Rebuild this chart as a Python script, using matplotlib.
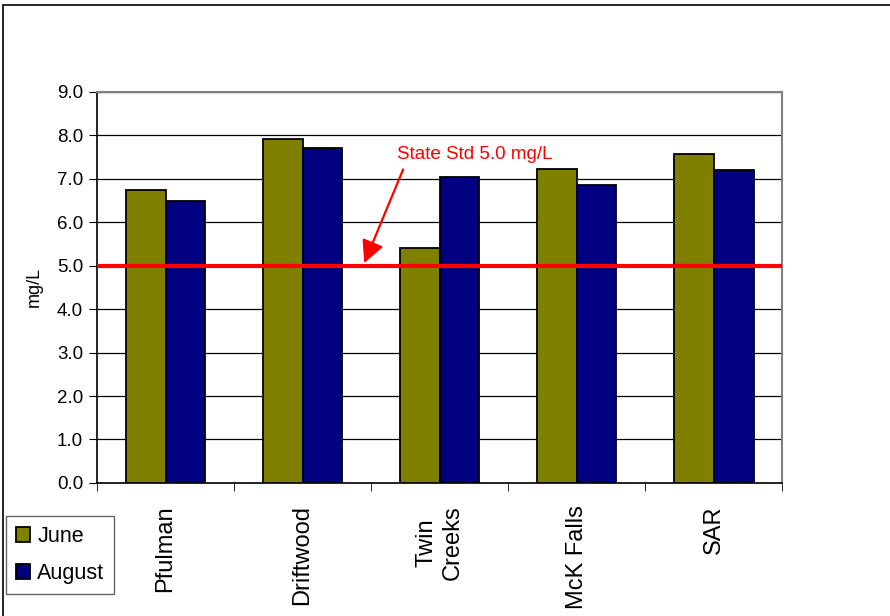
import numpy as np
import matplotlib.pyplot as plt
from matplotlib.patches import Rectangle

plt.rcParams['font.family'] = ['Liberation Sans', 'DejaVu Sans']

# dissolved oxygen by site
sites = ['Pfulman', 'Driftwood', 'Twin\nCreeks', 'McK Falls', 'SAR']
june = [6.73, 7.92, 5.40, 7.23, 7.58]
august = [6.48, 7.70, 7.03, 6.85, 7.19]
state_std = 5.0

x = np.arange(len(sites))
w = 0.29

fig = plt.figure(figsize=(8.9, 6.16), dpi=100)
ax = fig.add_axes([0.109, 0.216, 0.770, 0.635])

ax.bar(x - w / 2, june, w, color='#808000', edgecolor='black', linewidth=1.3, label='June', zorder=3)
ax.bar(x + w / 2, august, w, color='#000080', edgecolor='black', linewidth=1.3, label='August', zorder=3)

# state standard line
ax.axhline(state_std, color='#ff0000', lw=3, zorder=4)
ax.text(1.69, 7.55, 'State Std 5.0 mg/L', color='#ff0000', fontsize=13.5, va='center', ha='left')
ax.annotate('', xy=(1.442, state_std), xytext=(1.741, 7.27),
            arrowprops=dict(arrowstyle='-|>', color='#ff0000', lw=1.6, mutation_scale=34),
            zorder=5)

ax.set_xlim(-0.5, 4.5)
ax.set_ylim(0, 9)
ax.set_yticks(np.arange(0, 9.1, 1))
ax.set_yticklabels([f'{v:.1f}' for v in np.arange(0, 9.1, 1)], fontsize=13.5)
ax.yaxis.grid(True, color='black', lw=0.9, zorder=0)
ax.set_ylabel('mg/L', fontsize=13, labelpad=10)

ax.set_xticks(x)
ax.set_xticklabels(sites, rotation=90, fontsize=17, multialignment='center')
ax.tick_params(axis='x', length=0, pad=16)
ax.set_xticks(np.arange(-0.5, 5, 1), minor=True)
ax.tick_params(axis='x', which='minor', length=6, direction='out', color='black')
ax.tick_params(axis='y', length=6, direction='out', pad=4)

for side in ['top', 'right']:
    ax.spines[side].set_color('#808080')
    ax.spines[side].set_linewidth(1.5)
for side in ['left', 'bottom']:
    ax.spines[side].set_color('black')
    ax.spines[side].set_linewidth(1.2)

fig.legend(loc='upper left', bbox_to_anchor=(0.0067, 0.162), fontsize=15.5,
           frameon=True, fancybox=False, edgecolor='#404040', handlelength=0.65,
           handleheight=0.65, handletextpad=0.35, borderpad=0.45, labelspacing=0.75,
           borderaxespad=0)

# chart border
fig.patches.append(Rectangle((3 / 890, -0.1), 1.2, 1 - 5 / 616 + 0.1, transform=fig.transFigure,
                             fill=False, edgecolor='black', lw=1.2))

fig.savefig('out.png', dpi=100)
